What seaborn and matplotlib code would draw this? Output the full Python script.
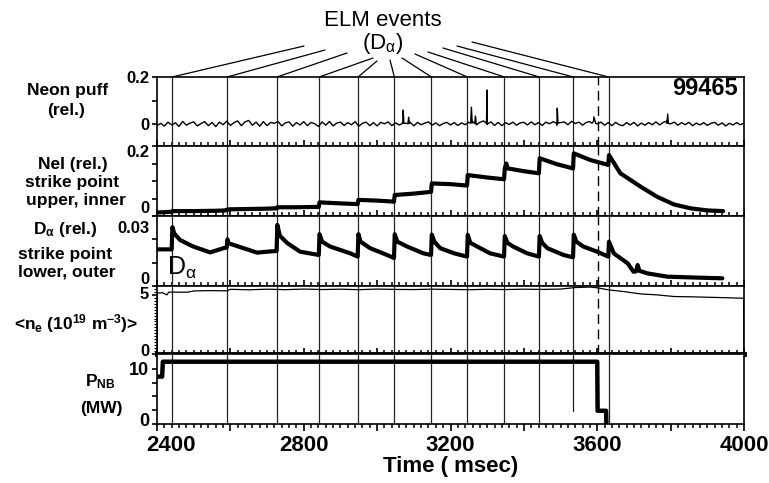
import matplotlib
matplotlib.use("Agg")
import matplotlib.pyplot as plt
import pandas as pd
import seaborn as sns
from matplotlib.patches import ConnectionPatch
from matplotlib.ticker import MultipleLocator, FixedLocator, FuncFormatter
import matplotlib.transforms as mtransforms

# ---------------- data ----------------
elm_times = [2441, 2591, 2727, 2842, 2948, 3047, 3148, 3246, 3347, 3442, 3535, 3631]
nb_off_time = 3603
shot_number = "99465"

# Neon puff (relative): baseline samples every 10 ms plus spikes
neon_base_t = list(range(2400, 4001, 10))
neon_base_v = [
    -0.006, 0.004, -0.008, 0.009, -0.003, 0.006, -0.009, 0.012, -0.004, 0.005, 0.010, -0.007, 0.003, 0.011, -0.006, 0.008, -0.010, 0.009, -0.002, 0.013,
    -0.005, 0.007, 0.014, -0.006, 0.010, 0.016, -0.004, 0.009, -0.008, 0.011, -0.006, 0.008, 0.004, 0.012, -0.007, 0.006, 0.010, -0.008, 0.007, -0.003,
    0.011, -0.006, 0.008, 0.002, -0.009, 0.010, -0.004, 0.012, -0.007, 0.005, 0.009, -0.005, 0.007, -0.002, 0.011, -0.008, 0.004, 0.009, -0.006, 0.007,
    -0.007, 0.008, 0.002, 0.010, -0.006, 0.006, -0.003, 0.013, 0.004, 0.009, -0.007, 0.008, -0.002, 0.005, 0.010, -0.004, 0.006, -0.006, 0.003, 0.008,
    -0.003, 0.007, -0.005, 0.006, -0.002, 0.009, 0.012, -0.003, 0.008, 0.014, -0.002, 0.010, -0.005, 0.008, -0.006, 0.007, -0.001, 0.009, -0.004, 0.006,
    0.008, -0.003, 0.010, -0.002, 0.007, -0.005, 0.009, 0.002, 0.011, -0.004, 0.007, 0.010, -0.002, 0.012, 0.003, 0.009, -0.004, 0.008, 0.011, 0.014,
    0.002, 0.009, -0.004, 0.007, -0.006, 0.008, -0.002, -0.006, 0.007, -0.003, 0.008, -0.007, 0.005, -0.004, 0.007, -0.002, 0.010, -0.003, 0.008, 0.013,
    0.002, 0.009, -0.004, 0.007, -0.002, 0.008, -0.006, 0.005, -0.003, 0.007, -0.005, 0.004, 0.008, -0.004, 0.006, -0.007, 0.004, -0.003, 0.007, -0.002,
    0.005,
]
neon_spike_t = [3069, 3071, 3073, 3084, 3086, 3088, 3255, 3257, 3259, 3266, 3268, 3270,
                3298, 3300, 3302, 3489, 3491, 3493, 3586, 3591, 3596, 3790, 3792, 3794]
neon_spike_v = [0.003, 0.060, 0.004, 0.002, 0.030, 0.003, 0.004, 0.072, 0.005, 0.003, 0.035, 0.004,
                0.004, 0.145, 0.003, 0.004, 0.068, 0.005, 0.004, 0.031, 0.003, 0.004, 0.043, 0.003]

# NeI (relative), strike point upper inner
neI_t = [2400, 2420, 2440, 2442, 2500, 2560, 2590, 2592, 2650, 2700, 2726, 2728, 2780, 2841,
         2843, 2900, 2947, 2949, 3000, 3046, 3048, 3100, 3147, 3149, 3200, 3245, 3247, 3300,
         3346, 3348, 3352, 3356, 3400, 3441, 3443, 3490, 3534, 3536, 3581, 3630, 3632, 3663,
         3718, 3763, 3809, 3854, 3900, 3943]
neI_v = [0.010, 0.011, 0.012, 0.014, 0.014, 0.015, 0.016, 0.019, 0.020, 0.021, 0.022, 0.025, 0.025, 0.026,
         0.039, 0.036, 0.034, 0.046, 0.044, 0.041, 0.060, 0.064, 0.069, 0.093, 0.091, 0.087, 0.117, 0.110,
         0.105, 0.136, 0.150, 0.136, 0.128, 0.122, 0.165, 0.148, 0.136, 0.179, 0.160, 0.146, 0.174, 0.122,
         0.084, 0.055, 0.033, 0.022, 0.016, 0.014]

# D-alpha (relative), strike point lower outer
da_t = [2400, 2440, 2442, 2447, 2463, 2499, 2545, 2581, 2590,
        2592, 2595, 2630, 2673, 2700, 2726,
        2728, 2735, 2755, 2790, 2841,
        2843, 2850, 2872, 2927, 2947,
        2949, 2955, 2981, 3027, 3046,
        3048, 3055, 3082, 3126, 3147,
        3149, 3156, 3172, 3210, 3245,
        3247, 3254, 3273, 3308, 3346,
        3348, 3355, 3371, 3409, 3441,
        3443, 3450, 3464, 3508, 3534,
        3536, 3543, 3562, 3600, 3630,
        3632, 3645, 3683, 3699, 3706, 3710, 3715, 3737, 3791, 3870, 3941]
da_v = [0.0157, 0.0157, 0.0252, 0.0225, 0.0197, 0.0169, 0.0144, 0.0162, 0.0165,
        0.0200, 0.0183, 0.0165, 0.0143, 0.0147, 0.0150,
        0.0262, 0.0215, 0.0184, 0.0147, 0.0133,
        0.0222, 0.0190, 0.0169, 0.0140, 0.0126,
        0.0222, 0.0190, 0.0162, 0.0133, 0.0120,
        0.0222, 0.0190, 0.0169, 0.0140, 0.0133,
        0.0220, 0.0190, 0.0162, 0.0140, 0.0126,
        0.0219, 0.0185, 0.0169, 0.0140, 0.0126,
        0.0214, 0.0185, 0.0169, 0.0140, 0.0126,
        0.0214, 0.0185, 0.0162, 0.0133, 0.0123,
        0.0220, 0.0190, 0.0169, 0.0147, 0.0126,
        0.0190, 0.0140, 0.0097, 0.0061, 0.0063, 0.0090, 0.0065, 0.0054, 0.0040, 0.0036, 0.0033]

# line-averaged density (1e19 m^-3)
ne_t = [2400, 2401, 2415, 2427, 2432, 2485, 2500, 2540, 2591, 2600, 2650, 2700, 2750, 2800, 2850,
        2900, 2950, 3000, 3050, 3100, 3150, 3200, 3250, 3300, 3350, 3400, 3450, 3500, 3540,
        3580, 3600, 3631, 3672, 3718, 3763, 3809, 3850, 3900, 3950, 3991, 3999, 4000]
ne_v = [0.0, 5.15, 5.18, 5.00, 5.23, 5.23, 5.33, 5.36, 5.34, 5.47, 5.43, 5.48, 5.44, 5.49, 5.45,
        5.48, 5.44, 5.49, 5.46, 5.45, 5.48, 5.46, 5.44, 5.47, 5.45, 5.48, 5.46, 5.49, 5.62,
        5.66, 5.60, 5.42, 5.28, 5.08, 5.00, 4.86, 4.84, 4.80, 4.76, 4.72, 4.72, 0.0]

# neutral beam power (MW)
pnb_t = [2400, 2414, 2416, 3600, 3601, 3624, 3625]
pnb_v = [8.6, 8.6, 11.3, 11.3, 2.4, 2.4, 0.0]

x_range = (2400, 4000)
x_major_step = 200
x_minor_step = 20
ylims = [(-0.092, 0.2), (0.0, 0.2), (0.0, 0.03), (0.0, 5.75), (0.0, 12.7)]

# y tick positions and labels per panel
ytick_specs = [
    ([0.0, 0.1, 0.2], ["0", "", "0.2"]),
    ([0.0, 0.05, 0.1, 0.15, 0.2], ["0", "", "", "", "0.2"]),
    ([0.0, 0.01, 0.02, 0.03], ["0", "", "", "0.03"]),
    ([0.0, 5.0], ["0", "5"]),
    ([0.0, 2.5, 5.0, 7.5, 10.0], ["0", "", "", "", "10"]),
]
# vertical nudges (pixels, + = up) for the bottom and top labelled ticks of each panel
ylabel_nudge = [(0, 0), (9, -5), (8, -11), (4, 2), (4, 0)]

# ---------------- style ----------------
sns.set_theme(style="ticks")
plt.rcParams["font.family"] = ["Liberation Sans", "DejaVu Sans"]
plt.rcParams["font.weight"] = "bold"
plt.rcParams["mathtext.default"] = "regular"
plt.rcParams["text.color"] = "black"
plt.rcParams["axes.labelcolor"] = "black"
plt.rcParams["axes.edgecolor"] = "black"
plt.rcParams["axes.linewidth"] = 1.2
plt.rcParams["xtick.color"] = "black"
plt.rcParams["ytick.color"] = "black"

W, H = 769, 483
fig, axes = plt.subplots(5, 1, figsize=(W / 100, H / 100), dpi=100,
                         gridspec_kw=dict(hspace=0, height_ratios=[69, 70, 70, 68, 70]))
fig.subplots_adjust(left=157 / W, right=744 / W, top=1 - 77 / H, bottom=1 - 424 / H)

neon_df = pd.DataFrame({"t": neon_base_t + neon_spike_t, "v": neon_base_v + neon_spike_v}).sort_values("t")
series = [
    (neon_df["t"], neon_df["v"], 1.0),
    (neI_t, neI_v, 3.0),
    (da_t, da_v, 3.0),
    (ne_t, ne_v, 0.9),
    (pnb_t, pnb_v, 3.2),
]
for ax, (tt, vv, lw), yl in zip(axes, series, ylims):
    sns.lineplot(x=list(tt), y=list(vv), ax=ax, color="black", linewidth=lw,
                 estimator=None, sort=False, legend=False, zorder=3)
    ax.set_ylim(*yl)
    ax.set_xlim(*x_range)
    ax.set_xlabel("")
    ax.set_ylabel("")
    for s in ax.spines.values():
        s.set_visible(True)
        s.set_color("black")
        s.set_linewidth(1.2)

# ELM lines and NB turn-off dashed line
for i, ax in enumerate(axes):
    for t in elm_times:
        if i == 4 and t == 3535:
            lo = 2.4
            ax.axvline(t, ymin=(lo - ylims[4][0]) / (ylims[4][1] - ylims[4][0]), color="#222222", lw=0.9, zorder=1)
        else:
            ax.axvline(t, color="#222222", lw=0.9, zorder=1)
    if i < 4:
        ax.axvline(nb_off_time, color="black", lw=1.0, ls=(0, (7, 4)), zorder=2)

# x ticks
major_locs = list(range(x_range[0], x_range[1] + 1, x_major_step))
minor_locs = [v for v in range(x_range[0], x_range[1] + 1, x_minor_step) if v % x_major_step != 0]
for i, ax in enumerate(axes):
    ax.xaxis.set_major_locator(FixedLocator(major_locs))
    ax.xaxis.set_minor_locator(FixedLocator(minor_locs))
    if i < 4:
        ax.tick_params(axis="x", which="major", direction="in", length=4.5, width=1.2,
                       bottom=True, top=False, labelbottom=False)
        ax.tick_params(axis="x", which="minor", direction="in", length=2.6, width=1.1,
                       bottom=True, top=False, labelbottom=False)
    else:
        ax.tick_params(axis="x", which="major", direction="out", length=5, width=1.2, labelsize=16, pad=3)
        ax.tick_params(axis="x", which="minor", direction="out", length=3, width=1.1, bottom=True)
axes[4].xaxis.set_major_formatter(FuncFormatter(lambda v, p: f"{int(round(v))}" if int(round(v)) % 400 == 0 else ""))
for lab in axes[4].get_xticklabels():
    lab.set_fontweight("bold")

# y ticks
for i, (ax, (locs, labs)) in enumerate(zip(axes, ytick_specs)):
    ax.yaxis.set_major_locator(FixedLocator(locs))
    ax.set_yticklabels(labs, fontweight="bold", fontsize=13 if i == 4 else 12)
    ax.tick_params(axis="y", which="major", direction="out", length=3.6, width=1.2, left=True, right=False, pad=2)
    if i != 3:
        ax.yaxis.set_minor_locator(FixedLocator([]))
axes[3].yaxis.set_minor_locator(MultipleLocator(0.25))
axes[3].tick_params(axis="y", which="minor", direction="out", length=2.5, width=0.8, left=True, right=False)
axes[3].spines["bottom"].set_linewidth(3.5)

axes[4].set_xlabel("Time ( msec)", fontsize=16, fontweight="bold", labelpad=0, color="black")

fig.canvas.draw()
# shift first time label right like the original
off = mtransforms.ScaledTranslation(14 / 100, 0, fig.dpi_scale_trans)
for lab in axes[4].get_xticklabels():
    if lab.get_text() == "2400":
        lab.set_transform(lab.get_transform() + off)
# nudge the y tick labels vertically
for ax, (dlo, dhi) in zip(axes, ylabel_nudge):
    labs = ax.get_yticklabels()
    for lab, d in ((labs[0], dlo), (labs[-1], dhi)):
        if d:
            lab.set_transform(lab.get_transform() + mtransforms.ScaledTranslation(0, d / 100, fig.dpi_scale_trans))

# in-panel texts
axes[0].text(0.99, 0.83, shot_number, transform=axes[0].transAxes, ha="right", va="center",
             fontsize=17, fontweight="bold", color="black")
axes[2].text(0.017, 0.26, r"D$_\alpha$", transform=axes[2].transAxes, ha="left", va="center",
             fontsize=18, fontweight="normal", color="black")


def ftext(x, y, s, **kw):
    fig.text(x / W, 1 - y / H, s, ha="center", va="center", color="black", **kw)


ftext(383, 20, "ELM events", fontsize=16, fontweight="normal")
ftext(383, 43, r"(D$_\alpha$)", fontsize=16, fontweight="normal")

lab_kw = dict(fontsize=12.5, fontweight="bold")
ftext(68, 90, "Neon puff", **lab_kw)
ftext(66, 110, "(rel.)", **lab_kw)
ftext(73, 164, "NeI (rel.)", **lab_kw)
ftext(72, 183, "strike point", **lab_kw)
ftext(76, 200, "upper, inner", **lab_kw)
ftext(65, 229, r"D$_\alpha$ (rel.)", **lab_kw)
ftext(65, 255, "strike point", **lab_kw)
ftext(67, 272, "lower, outer", **lab_kw)
ftext(76, 324, r"<n$_e$ (10$^{19}$ m$^{-3}$)>", **lab_kw)
ftext(100, 382, r"P$_{NB}$", **lab_kw)
ftext(101, 408, "(MW)", **lab_kw)

# fan of lines linking "ELM events" label to the ELM markers
fan_start = [(304, 46), (325, 50), (347, 53), (373, 58), (377, 61), (390, 60),
             (402, 58), (415, 54), (428, 52), (443, 48), (457, 46), (472, 42)]
for (px, py), t in zip(fan_start, elm_times):
    con = ConnectionPatch(xyA=(px, H - py), coordsA="figure pixels",
                          xyB=(t, ylims[0][1]), coordsB=axes[0].transData,
                          color="black", lw=0.9)
    fig.add_artist(con)

fig.savefig("out.png", dpi=100)
